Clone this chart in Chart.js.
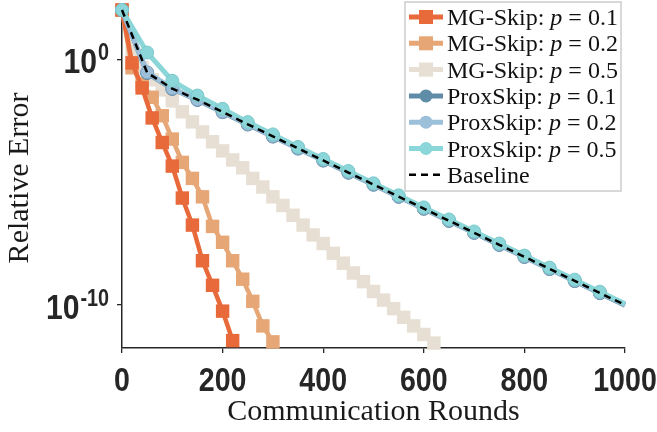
<!DOCTYPE html>
<html>
<head>
<meta charset="utf-8">
<script src="https://cdn.jsdelivr.net/npm/chart.js@4.4.1/dist/chart.umd.min.js"></script>
<style>
  html, body { margin: 0; padding: 0; background: #fff; }
  #wrap { width: 657px; height: 432px; }
</style>
</head>
<body>
<div id="wrap"><canvas id="errChart" width="657" height="432"></canvas></div>
<script>
// values (relative error, log axis)
const mgRounds01 = [0, 20, 40, 60, 80, 100, 120, 140, 160, 180, 200, 220];
const mgSkip01 = [100, 7.08e-1, 6.76e-2, 4.07e-3, 4.07e-4, 4.47e-5, 2.24e-6, 1.78e-7, 6.31e-9, 6.31e-10, 5.62e-11, 3.55e-12];

const mgRounds02 = [0, 20, 40, 60, 80, 100, 120, 140, 160, 180, 200, 220, 240, 260, 280, 300];
const mgSkip02 = [100, 4.47e-1, 1.0e-1, 2.82e-2, 5.01e-3, 5.62e-4, 6.31e-5, 1.41e-5, 2.51e-6, 1.58e-7, 3.55e-8, 6.31e-9, 1.12e-9, 1.41e-10, 1.41e-11, 3.16e-12];

const mgRounds05 = [0, 20, 40, 60, 80, 100, 120, 140, 160, 180, 200, 220, 240, 260, 280, 300,
    320, 340, 360, 380, 400, 420, 440, 460, 480, 500, 520, 540, 560, 580, 600, 620];
const mgSkip05 = [100, 2.0, 4.47e-1, 1.45e-1, 5.62e-2, 2.0e-2, 7.24e-3, 2.82e-3, 1.10e-3, 4.37e-4, 1.86e-4,
    7.94e-5, 3.80e-5, 1.41e-5, 6.31e-6, 2.51e-6, 1.12e-6, 4.47e-7, 1.78e-7, 7.08e-8, 3.16e-8, 1.26e-8,
    5.01e-9, 2.0e-9, 8.91e-10, 3.55e-10, 1.58e-10, 7.08e-11, 3.16e-11, 1.41e-11, 6.31e-12, 2.82e-12];

const proxRounds = [0, 50, 100, 150, 200, 250, 300, 350, 400, 450, 500, 550, 600, 650, 700, 750, 800, 850, 900, 950, 1000];
const proxSkip01 = [100, 2.75e-1, 6.17e-2, 2.19e-2, 7.0e-3, 2.2e-3, 7.1e-4, 2.3e-4, 7.5e-5, 2.4e-5, 7.8e-6,
    2.52e-6, 8.2e-7, 2.64e-7, 8.6e-8, 2.78e-8, 9.0e-9, 2.9e-9, 9.4e-10, 3.04e-10, 9.8e-11];
const proxSkip02 = [100, 2.9e-1, 6.4e-2, 2.28e-2, 7.2e-3, 2.28e-3, 7.35e-4, 2.38e-4, 7.7e-5, 2.49e-5, 8.05e-6,
    2.61e-6, 8.45e-7, 2.73e-7, 8.85e-8, 2.86e-8, 9.25e-9, 3.0e-9, 9.7e-10, 3.14e-10, 1.02e-10];
const proxSkip05 = [100, 1.86, 1.32e-1, 3.31e-2, 9.55e-3, 2.75e-3, 8.71e-4, 2.69e-4, 8.71e-5, 2.82e-5, 8.91e-6,
    2.88e-6, 9.33e-7, 3.02e-7, 9.77e-8, 3.16e-8, 1.02e-8, 3.31e-9, 1.07e-9, 3.47e-10, 1.12e-10];
const baseline = [100, 2.82e-1, 6.31e-2, 2.24e-2, 7.08e-3, 2.24e-3, 7.24e-4, 2.34e-4, 7.59e-5, 2.45e-5, 7.94e-6,
    2.57e-6, 8.32e-7, 2.69e-7, 8.71e-8, 2.82e-8, 9.12e-9, 2.95e-9, 9.55e-10, 3.09e-10, 1.0e-10];

const xTicks = [0, 200, 400, 600, 800, 1000];
const yTicks = [1, 1e-10];
const yTickExp = ['0', '-10'];

const seriesNames = ['MG-Skip: ', 'MG-Skip: ', 'MG-Skip: ', 'ProxSkip: ', 'ProxSkip: ', 'ProxSkip: ', 'Baseline'];
const seriesP = ['0.1', '0.2', '0.5', '0.1', '0.2', '0.5', null];

const AXIS = '#262626';

function pts(xs, ys) {
    return xs.map((x, i) => ({x: x, y: ys[i]}));
}

function mgSet(xs, ys, color, order) {
    return {
        data: pts(xs, ys),
        borderColor: color,
        backgroundColor: color,
        borderWidth: 4.5,
        pointStyle: 'rect',
        pointRadius: 9.5,
        pointBorderWidth: 0,
        pointBackgroundColor: color,
        clip: false,
        order: order,
        _marker: 'square'
    };
}

function proxSet(ys, color, edge, order) {
    return {
        data: pts(proxRounds, ys),
        borderColor: color,
        backgroundColor: color,
        borderWidth: 5,
        pointStyle: 'circle',
        // no marker on the last sample
        pointRadius: (c) => c.dataIndex === proxRounds.length - 1 ? 0 : 6.5,
        pointBorderWidth: 1,
        pointBorderColor: edge,
        pointBackgroundColor: color,
        clip: false,
        order: order,
        _marker: 'circle'
    };
}

const datasets = [
    mgSet(mgRounds01, mgSkip01, '#e8693a', 4),
    mgSet(mgRounds02, mgSkip02, '#e6a676', 5),
    mgSet(mgRounds05, mgSkip05, '#e7dfd3', 6),
    proxSet(proxSkip01, '#5f8ca7', '#557f98', 3),
    proxSet(proxSkip02, '#9cc0da', '#7ea4c2', 2),
    proxSet(proxSkip05, '#8bd6d8', '#7cc8cb', 1),
    {
        data: pts(proxRounds, baseline),
        borderColor: '#000',
        borderWidth: 2.5,
        borderDash: [7, 5],
        pointRadius: 0,
        clip: false,
        order: 0,
        _marker: 'dash'
    }
];

// draws condensed text (the reference glyphs are narrow)
function drawText(ctx, text, x, y, align, font, sx) {
    ctx.save();
    ctx.font = font;
    const w = ctx.measureText(text).width * sx;
    let left = x;
    if (align === 'center') left = x - w / 2;
    if (align === 'right') left = x - w;
    ctx.translate(left, y);
    ctx.scale(sx, 1);
    ctx.textAlign = 'left';
    ctx.textBaseline = 'alphabetic';
    ctx.fillText(text, 0, 0);
    ctx.restore();
    return w;
}

const labelPlugin = {
    id: 'labelPlugin',
    afterDraw(chart) {
        const ctx = chart.ctx;
        const xs = chart.scales.x;
        const ys = chart.scales.y;
        const area = chart.chartArea;
        ctx.save();
        ctx.fillStyle = AXIS;

        // x tick labels
        xTicks.forEach(v => {
            drawText(ctx, String(v), xs.getPixelForValue(v), 391, 'center', 'bold 34px "Liberation Sans"', 0.84);
        });

        // y tick labels as 10^n
        const supFont = 'bold 23px "Liberation Sans"';
        const mainFont = 'bold 35px "Liberation Sans"';
        yTicks.forEach((v, i) => {
            const py = ys.getPixelForValue(v);
            ctx.font = supFont;
            const supW = ctx.measureText(yTickExp[i]).width * 0.86;
            const right = 109;
            drawText(ctx, yTickExp[i], right - supW, py + 1, 'left', supFont, 0.86);
            drawText(ctx, '10', right - supW - 1, py + 14, 'right', mainFont, 0.86);
        });

        // axis titles
        ctx.fillStyle = '#1a1a1a';
        ctx.font = '30px "Liberation Serif"';
        ctx.textAlign = 'center';
        ctx.textBaseline = 'alphabetic';
        ctx.fillText('Communication Rounds', (area.left + area.right) / 2, 420);
        ctx.save();
        ctx.translate(28, 178);
        ctx.rotate(-Math.PI / 2);
        ctx.fillText('Relative Error', 0, 0);
        ctx.restore();

        // legend
        const bx = 405, by = 2, bw = 216, bh = 189;
        ctx.fillStyle = '#fff';
        ctx.fillRect(bx, by, bw, bh);
        ctx.strokeStyle = '#cccccc';
        ctx.lineWidth = 1.5;
        ctx.strokeRect(bx, by, bw, bh);

        datasets.forEach((ds, i) => {
            const cy = 17 + i * 26.3;
            ctx.save();
            ctx.strokeStyle = ds.borderColor;
            ctx.lineWidth = ds._marker === 'dash' ? 2.5 : 5;
            if (ds._marker === 'dash') ctx.setLineDash([7, 5]);
            ctx.beginPath();
            ctx.moveTo(409, cy);
            ctx.lineTo(443, cy);
            ctx.stroke();
            ctx.setLineDash([]);
            ctx.fillStyle = ds.borderColor;
            if (ds._marker === 'square') {
                ctx.fillRect(426 - 7, cy - 7, 14, 14);
            } else if (ds._marker === 'circle') {
                ctx.beginPath();
                ctx.arc(426, cy, 6.5, 0, Math.PI * 2);
                ctx.fill();
            }
            ctx.restore();

            ctx.fillStyle = '#111';
            ctx.textAlign = 'left';
            ctx.textBaseline = 'alphabetic';
            let tx = 447;
            const base = cy + 8;
            ctx.font = '24px "Liberation Serif"';
            ctx.fillText(seriesNames[i], tx, base);
            tx += ctx.measureText(seriesNames[i]).width;
            if (seriesP[i]) {
                ctx.font = 'italic 24px "Liberation Serif"';
                ctx.fillText('p', tx, base);
                tx += ctx.measureText('p').width;
                ctx.font = '24px "Liberation Serif"';
                ctx.fillText(' = ' + seriesP[i], tx, base);
            }
        });
        ctx.restore();
    }
};

const axisGrid = {
    display: true,
    drawOnChartArea: false,
    drawTicks: true,
    tickLength: 5,
    color: AXIS,
    lineWidth: 1.3
};

const ctx = document.getElementById('errChart').getContext('2d');
const errChart = new Chart(ctx, {
    type: 'line',
    data: {datasets: datasets},
    options: {
        responsive: false,
        animation: false,
        layout: {padding: {left: 0, right: 32, top: 10, bottom: 0}},
        plugins: {
            legend: {display: false},
            tooltip: {enabled: false}
        },
        scales: {
            x: {
                type: 'linear',
                min: 0,
                max: 1000,
                ticks: {display: false, stepSize: 200},
                grid: axisGrid,
                border: {display: true, color: AXIS, width: 1.5},
                afterFit: (s) => { s.height = 84; }
            },
            y: {
                type: 'logarithmic',
                min: 1.78e-12,
                max: 100,
                afterBuildTicks: (s) => { s.ticks = yTicks.map(v => ({value: v})); },
                ticks: {display: false},
                grid: axisGrid,
                border: {display: true, color: AXIS, width: 1.5},
                afterFit: (s) => { s.width = 122; }
            }
        }
    },
    plugins: [labelPlugin]
});
</script>
</body>
</html>
